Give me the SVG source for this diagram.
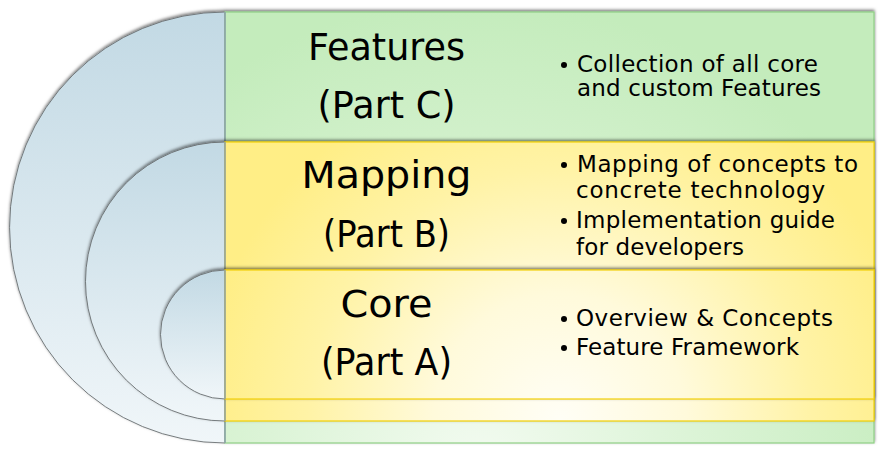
<svg xmlns="http://www.w3.org/2000/svg" width="881" height="449" viewBox="0 0 881 449">
<defs>
<filter id="sh" x="-10%" y="-10%" width="120%" height="120%">
<feDropShadow dx="0" dy="-1.5" stdDeviation="1.6" flood-color="#000" flood-opacity="0.55"/>
</filter>
<linearGradient id="gArc" x1="0" y1="0" x2="0" y2="1">
<stop offset="0" stop-color="#c2d9e4"/>
<stop offset="1" stop-color="#f0f6f9"/>
</linearGradient>
<radialGradient id="gGreen" gradientUnits="userSpaceOnUse" cx="480" cy="470" r="470">
<stop offset="0" stop-color="#f3fbf1"/>
<stop offset="0.45" stop-color="#dcf4d7"/>
<stop offset="1" stop-color="#c4ecbc"/>
</radialGradient>
<radialGradient id="gYellow" gradientUnits="userSpaceOnUse" cx="560" cy="420" r="360">
<stop offset="0" stop-color="#fffef6"/>
<stop offset="0.35" stop-color="#fffadb"/>
<stop offset="0.7" stop-color="#fff3a6"/>
<stop offset="1" stop-color="#ffee86"/>
</radialGradient>
<style>
.arc{fill:url(#gArc);stroke:#6a6f72;stroke-width:0.9}
.edge{stroke:#8ea2ab;stroke-width:1.5}
.green{fill:url(#gGreen);stroke:#8fcf85;stroke-width:1.2}
.yellow{fill:url(#gYellow);stroke:#f2cf0a;stroke-width:1.2}
.title{font-family:"DejaVu Sans",sans-serif;font-size:37px;fill:#000;text-anchor:middle}
.bul{font-family:"DejaVu Sans",sans-serif;font-size:23px;fill:#000}
.dot{fill:#000}
</style>
</defs>
<rect width="881" height="449" fill="#fff"/>
<g id="features">
<g filter="url(#sh)">
<path class="arc" d="M225,12 A215.5,215.5 0 0 0 225,443 Z"/>
<rect class="green" x="225" y="12" width="649" height="431"/>
<line class="edge" x1="225" y1="12" x2="225" y2="443"/>
</g>
<text class="title" x="386.5" y="60" textLength="157" lengthAdjust="spacingAndGlyphs">Features</text>
<text class="title" x="386.5" y="118" textLength="138" lengthAdjust="spacingAndGlyphs">(Part C)</text>
<circle class="dot" cx="564" cy="65" r="3"/>
<text class="bul" x="577" y="72" textLength="241" lengthAdjust="spacing">Collection of all core</text>
<text class="bul" x="577" y="96" textLength="244" lengthAdjust="spacing">and custom Features</text>
</g>
<g id="mapping">
<g filter="url(#sh)">
<path class="arc" d="M225,142 A139.5,139.5 0 0 0 225,421 Z"/>
<rect class="yellow" x="225" y="142" width="649" height="279"/>
<line class="edge" x1="225" y1="142" x2="225" y2="421"/>
</g>
<text class="title" x="386.5" y="188" textLength="170" lengthAdjust="spacingAndGlyphs">Mapping</text>
<text class="title" x="386.5" y="247" textLength="127" lengthAdjust="spacingAndGlyphs">(Part B)</text>
<circle class="dot" cx="564" cy="165" r="3"/>
<text class="bul" x="577" y="172" textLength="281" lengthAdjust="spacing">Mapping of concepts to</text>
<text class="bul" x="576" y="198" textLength="249" lengthAdjust="spacing">concrete technology</text>
<circle class="dot" cx="564" cy="221" r="3"/>
<text class="bul" x="576" y="228" textLength="259" lengthAdjust="spacing">Implementation guide</text>
<text class="bul" x="576" y="255" textLength="168" lengthAdjust="spacing">for developers</text>
</g>
<g id="core">
<g filter="url(#sh)">
<path class="arc" d="M225,270 A64.5,64.5 0 0 0 225,399 Z"/>
<rect class="yellow" x="225" y="270" width="649" height="129"/>
<line class="edge" x1="225" y1="270" x2="225" y2="399"/>
</g>
<text class="title" x="386.5" y="317" textLength="92" lengthAdjust="spacingAndGlyphs">Core</text>
<text class="title" x="386.5" y="375" textLength="131" lengthAdjust="spacingAndGlyphs">(Part A)</text>
<circle class="dot" cx="564" cy="319" r="3"/>
<text class="bul" x="576" y="326" textLength="257" lengthAdjust="spacing">Overview &amp; Concepts</text>
<circle class="dot" cx="564" cy="348" r="3"/>
<text class="bul" x="576" y="355" textLength="223" lengthAdjust="spacing">Feature Framework</text>
</g>
<g id="connectors"/>
</svg>
